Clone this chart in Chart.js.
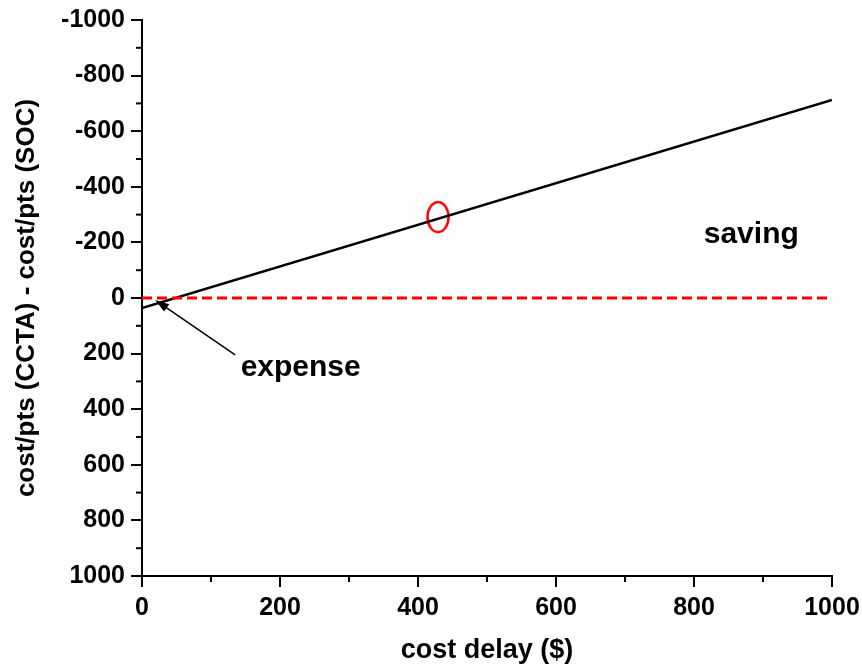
<!DOCTYPE html>
<html>
<head>
<meta charset="utf-8">
<script src="https://cdn.jsdelivr.net/npm/chart.js@4"></script>
<style>
  html, body { margin: 0; padding: 0; background: #fff; }
  #wrap { width: 862px; height: 669px; }
</style>
</head>
<body>
<div id="wrap"><canvas id="chart"></canvas></div>
<script>
// values
const costDelay = [0, 1000];
const costDiff = [36, -712];
const zeroLine = [0, 0];
const markX = [429];
const markY = [-291];
const yTickValues = [-1000, -800, -600, -400, -200, 0, 200, 400, 600, 800, 1000];
const xTickValues = [0, 200, 400, 600, 800, 1000];

const FONT = "'Liberation Sans', Arial, sans-serif";

// red ellipse used as point marker
const ring = document.createElement("canvas");
ring.width = 26;
ring.height = 34;
const rc = ring.getContext("2d");
rc.strokeStyle = "#ff0000";
rc.lineWidth = 2.5;
rc.beginPath();
rc.ellipse(13, 17, 10.5, 15, 0, 0, Math.PI * 2);
rc.stroke();

// short minor ticks between labelled ones + text annotations
const extras = {
    id: "extras",
    afterDraw(chart) {
        const ctx = chart.ctx;
        const x = chart.scales.x;
        const y = chart.scales.y;
        ctx.save();
        ctx.strokeStyle = "#000";
        ctx.lineWidth = 2;
        for (let v = -900; v < 1000; v += 200) {
            const py = y.getPixelForValue(v);
            ctx.beginPath();
            ctx.moveTo(x.left - 6, py);
            ctx.lineTo(x.left, py);
            ctx.stroke();
        }
        for (let v = 100; v < 1000; v += 200) {
            const px = x.getPixelForValue(v);
            ctx.beginPath();
            ctx.moveTo(px, y.bottom);
            ctx.lineTo(px, y.bottom + 6);
            ctx.stroke();
        }

        ctx.fillStyle = "#000";
        ctx.font = "bold 30px " + FONT;
        ctx.textAlign = "center";
        ctx.textBaseline = "alphabetic";
        ctx.fillText("saving", x.getPixelForValue(883), y.getPixelForValue(-198));
        ctx.fillText("expense", x.getPixelForValue(230), y.getPixelForValue(281));

        // arrow to the crossing point
        const tx = x.getPixelForValue(19), ty = y.getPixelForValue(7);
        const sx = x.getPixelForValue(135), sy = y.getPixelForValue(205);
        const ang = Math.atan2(ty - sy, tx - sx);
        ctx.lineWidth = 1.5;
        ctx.beginPath();
        ctx.moveTo(sx, sy);
        ctx.lineTo(tx - 10 * Math.cos(ang), ty - 10 * Math.sin(ang));
        ctx.stroke();
        ctx.beginPath();
        ctx.moveTo(tx, ty);
        ctx.lineTo(tx - 14 * Math.cos(ang) + 4.5 * Math.sin(ang), ty - 14 * Math.sin(ang) - 4.5 * Math.cos(ang));
        ctx.lineTo(tx - 14 * Math.cos(ang) - 4.5 * Math.sin(ang), ty - 14 * Math.sin(ang) + 4.5 * Math.cos(ang));
        ctx.closePath();
        ctx.fill();
        ctx.restore();
    }
};

const ctx = document.getElementById("chart").getContext("2d");

new Chart(ctx, {
    type: "scatter",
    data: {
        datasets: [
            {
                data: costDelay.map((v, i) => ({ x: v, y: zeroLine[i] })),
                showLine: true,
                borderColor: "#ff0000",
                borderWidth: 3,
                borderDash: [10, 5],
                pointRadius: 0
            },
            {
                data: costDelay.map((v, i) => ({ x: v, y: costDiff[i] })),
                showLine: true,
                borderColor: "#000",
                borderWidth: 2.5,
                pointRadius: 0
            },
            {
                data: markX.map((v, i) => ({ x: v, y: markY[i] })),
                pointStyle: ring,
                pointRadius: 13
            }
        ]
    },
    options: {
        responsive: true,
        maintainAspectRatio: false,
        animation: false,
        layout: { padding: { top: 20, right: 30, left: 0, bottom: 0 } },
        plugins: {
            legend: { display: false },
            tooltip: { enabled: false }
        },
        scales: {
            x: {
                type: "linear",
                min: 0,
                max: 1000,
                afterFit(s) { s.height = 93; s.paddingLeft = 0; s.paddingRight = 0; },
                afterBuildTicks(s) { s.ticks = xTickValues.map(v => ({ value: v })); },
                grid: { drawOnChartArea: false, color: "#000", lineWidth: 2, tickLength: 11 },
                border: { color: "#000", width: 2 },
                ticks: {
                    color: "#000",
                    padding: 6,
                    maxRotation: 0,
                    callback: v => String(v),
                    font: { family: FONT, size: 25, weight: "bold" }
                },
                title: {
                    display: true,
                    text: "cost delay ($)",
                    color: "#000",
                    padding: { top: 0, bottom: 2 },
                    font: { family: FONT, size: 27, weight: "bold" }
                }
            },
            y: {
                type: "linear",
                reverse: true,
                min: -1000,
                max: 1000,
                afterFit(s) { s.width = 142; s.paddingTop = 0; s.paddingBottom = 0; },
                afterBuildTicks(s) { s.ticks = yTickValues.map(v => ({ value: v })); },
                grid: { drawOnChartArea: false, color: "#000", lineWidth: 2, tickLength: 11 },
                border: { color: "#000", width: 2 },
                ticks: {
                    color: "#000",
                    padding: 6,
                    callback: v => String(v),
                    font: { family: FONT, size: 25, weight: "bold" }
                },
                title: {
                    display: true,
                    text: "cost/pts (CCTA) - cost/pts (SOC)",
                    color: "#000",
                    padding: { top: 11, bottom: 0 },
                    font: { family: FONT, size: 26, weight: "bold" }
                }
            }
        }
    },
    plugins: [extras]
});
</script>
</body>
</html>
